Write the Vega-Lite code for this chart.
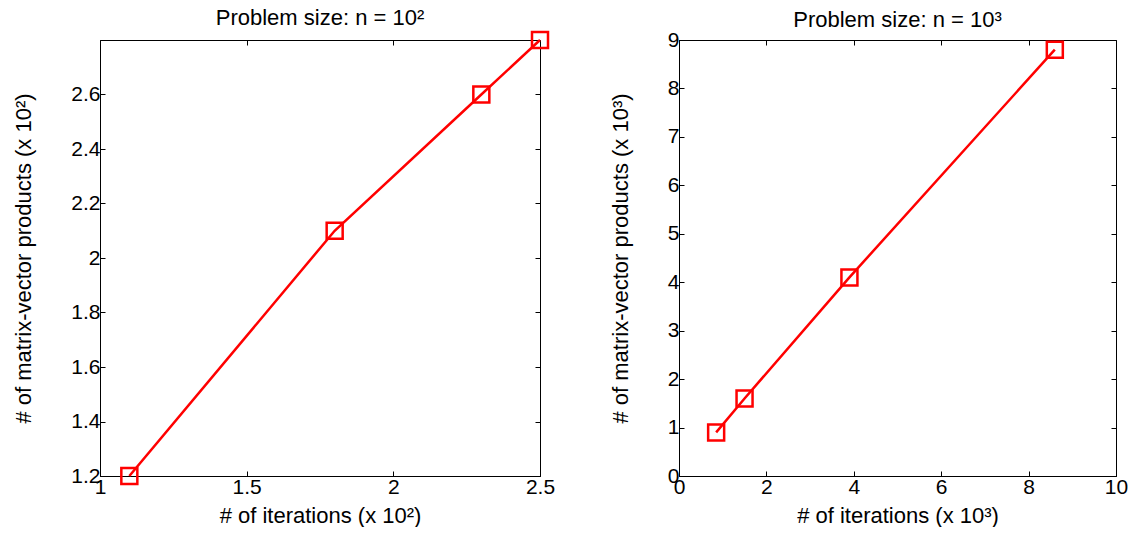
{
  "$schema": "https://vega.github.io/schema/vega-lite/v6.json",
  "background": "white",
  "padding": {"left": 12, "top": 6, "right": 5, "bottom": 0},
  "spacing": 139,
  "bounds": "flush",
  "config": {
    "font": "Liberation Sans",
    "view": {"stroke": "black", "strokeWidth": 1},
    "axis": {
      "grid": false,
      "domainColor": "black",
      "tickColor": "black",
      "labelColor": "black",
      "titleColor": "black",
      "labelFont": "Liberation Sans",
      "titleFont": "Liberation Sans",
      "labelFontSize": 21,
      "titleFontSize": 22,
      "titleFontWeight": "normal",
      "tickSize": -5,
      "labelPadding": 5,
      "labelFlush": false,
      "labelOverlap": false
    },
    "axisX": {"titlePadding": 8, "labelPadding": 5},
    "axisY": {"titlePadding": 35},
    "title": {"font": "Liberation Sans", "fontSize": 22, "fontWeight": "normal", "color": "black", "offset": 3, "dy": 6}
  },
  "datasets": {
    "small": [
      {"iterations": 1.1, "products": 1.2},
      {"iterations": 1.8, "products": 2.1},
      {"iterations": 2.3, "products": 2.6},
      {"iterations": 2.5, "products": 2.8}
    ],
    "large": [
      {"iterations": 0.85, "products": 0.9},
      {"iterations": 1.5, "products": 1.6},
      {"iterations": 3.9, "products": 4.1},
      {"iterations": 8.6, "products": 8.8}
    ]
  },
  "hconcat": [
    {
      "width": 440,
      "height": 436,
      "title": "Problem size: n = 10²",
      "data": {"name": "small"},
      "layer": [
        {
          "mark": {"type": "line", "color": "#ff0000", "strokeWidth": 2.5, "point": {"shape": "square", "filled": false, "size": 256, "strokeWidth": 2.5, "color": "#ff0000"}},
          "encoding": {
            "x": {"field": "iterations", "type": "quantitative", "scale": {"domain": [1, 2.5], "nice": false, "zero": false}, "axis": {"title": "# of iterations (x 10²)", "values": [1, 1.5, 2, 2.5], "format": "~r"}},
            "y": {"field": "products", "type": "quantitative", "scale": {"domain": [1.2, 2.8], "nice": false, "zero": false}, "axis": {"title": "# of matrix-vector products (x 10²)", "values": [1.2, 1.4, 1.6, 1.8, 2, 2.2, 2.4, 2.6], "format": "~r"}}
          }
        },
        {
          "mark": {"type": "point", "opacity": 0},
          "encoding": {
            "x": {"field": "iterations", "type": "quantitative", "axis": {"orient": "top", "title": null, "labels": false, "domain": false, "values": [1, 1.5, 2, 2.5]}},
            "y": {"field": "products", "type": "quantitative", "axis": {"orient": "right", "title": null, "labels": false, "domain": false, "values": [1.2, 1.4, 1.6, 1.8, 2, 2.2, 2.4, 2.6]}}
          }
        }
      ],
      "resolve": {"axis": {"x": "independent", "y": "independent"}}
    },
    {
      "width": 437,
      "height": 436,
      "title": "Problem size: n = 10³",
      "data": {"name": "large"},
      "layer": [
        {
          "mark": {"type": "line", "color": "#ff0000", "strokeWidth": 2.5, "point": {"shape": "square", "filled": false, "size": 256, "strokeWidth": 2.5, "color": "#ff0000"}},
          "encoding": {
            "x": {"field": "iterations", "type": "quantitative", "scale": {"domain": [0, 10], "nice": false}, "axis": {"title": "# of iterations (x 10³)", "values": [0, 2, 4, 6, 8, 10], "format": "~r"}},
            "y": {"field": "products", "type": "quantitative", "scale": {"domain": [0, 9], "nice": false}, "axis": {"title": "# of matrix-vector products (x 10³)", "values": [0, 1, 2, 3, 4, 5, 6, 7, 8, 9], "format": "~r"}}
          }
        },
        {
          "mark": {"type": "point", "opacity": 0},
          "encoding": {
            "x": {"field": "iterations", "type": "quantitative", "axis": {"orient": "top", "title": null, "labels": false, "domain": false, "values": [0, 2, 4, 6, 8, 10]}},
            "y": {"field": "products", "type": "quantitative", "axis": {"orient": "right", "title": null, "labels": false, "domain": false, "values": [0, 1, 2, 3, 4, 5, 6, 7, 8, 9]}}
          }
        }
      ],
      "resolve": {"axis": {"x": "independent", "y": "independent"}}
    }
  ]
}
